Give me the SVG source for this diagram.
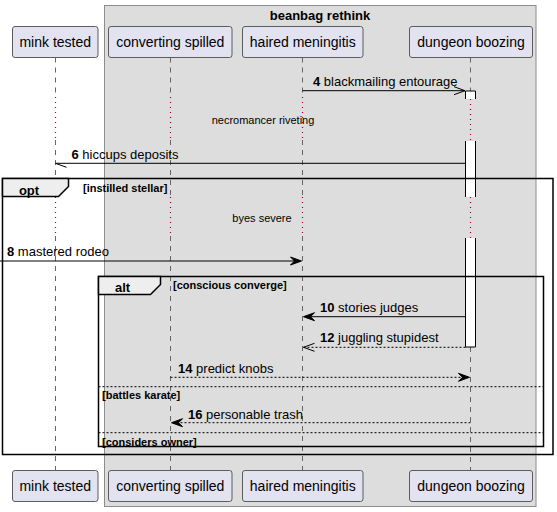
<svg xmlns="http://www.w3.org/2000/svg" width="557" height="512" viewBox="0 0 557 512">
<style>
.pbox{fill:#E2E2F0;stroke:#5C5C5C;stroke-width:1}
.ptxt{font-family:"Liberation Sans",Arial,sans-serif;font-size:14px;fill:#000;text-anchor:middle}
.life{stroke:#666;stroke-width:1;stroke-dasharray:5,5;fill:none}
.delay{stroke:#A80036;stroke-width:1.2;stroke-dasharray:1,4;fill:none}
.msg{stroke:#000;stroke-width:1;fill:none}
.dash{stroke-dasharray:2,2}
.mtxt{font-family:"Liberation Sans",Arial,sans-serif;font-size:13px;fill:#000}
.num{font-weight:bold}
.dtxt{font-family:"Liberation Sans",Arial,sans-serif;font-size:11px;fill:#000;text-anchor:middle}
.frame{fill:none;stroke:#000;stroke-width:1.5}
.tab{fill:#EEEEEE;stroke:#000;stroke-width:1.5}
.ttxt{font-family:"Liberation Sans",Arial,sans-serif;font-size:13px;font-weight:bold;fill:#000;text-anchor:middle}
.ctxt{font-family:"Liberation Sans",Arial,sans-serif;font-size:11px;font-weight:bold;fill:#000}
.sep{stroke:#000;stroke-width:1;stroke-dasharray:2,2;fill:none}
.act{fill:#FFFFFF;stroke:none}
.actl{stroke:#000;stroke-width:1;fill:none}
.head{fill:#000;stroke:#000;stroke-width:1}
</style>
<g id="box-beanbag-rethink">
<rect x="104.5" y="5.5" width="431.5" height="501" fill="#DDDDDD" stroke="#8C8C8C" stroke-width="1"/>
<text x="320" y="19.5" class="ttxt">beanbag rethink</text>
</g>
<g id="lifelines">
<path class="life" d="M55.5,57.5V97M55.5,140V197M55.5,236V470"/>
<path class="delay" d="M55.5,97V140M55.5,197V236"/>
<path class="life" d="M170.5,57.5V97M170.5,140V197M170.5,236V470"/>
<path class="delay" d="M170.5,97V140M170.5,197V236"/>
<path class="life" d="M302.5,57.5V97M302.5,140V197M302.5,236V470"/>
<path class="delay" d="M302.5,97V140M302.5,197V236"/>
<path class="life" d="M470.5,57.5V91M470.5,347V470"/>
<path class="delay" d="M470.5,99V141M470.5,197V238"/>
</g>
<g id="activations">
<rect class="act" x="465.5" y="91" width="10" height="8"/>
<path class="actl" d="M465.5,99V91H475.5V99"/>
<rect class="act" x="465.5" y="141" width="10" height="56"/>
<path class="actl" d="M465.5,141V197M475.5,141V197"/>
<rect class="act" x="465.5" y="238" width="10" height="109"/>
<path class="actl" d="M465.5,238V347H475.5V238"/>
</g>
<g id="group-opt">
<rect class="frame" x="2.5" y="178.5" width="550.5" height="276"/>
<path class="tab" d="M2.5,178.5H68.5V186.5L58.5,196.5H2.5Z"/>
<text x="29" y="195" class="ttxt">opt</text>
<text x="83" y="192" class="ctxt">[instilled stellar]</text>
</g>
<g id="group-alt">
<rect class="frame" x="98.5" y="276.5" width="445" height="170"/>
<path class="tab" d="M98.5,276.5H160.5V284.5L150.5,294.5H98.5Z"/>
<text x="122.5" y="291.5" class="ttxt">alt</text>
<text x="173" y="289" class="ctxt">[conscious converge]</text>
<line class="sep" x1="98.5" y1="386.7" x2="543.5" y2="386.7"/>
<text x="102" y="399" class="ctxt">[battles karate]</text>
<line class="sep" x1="98.5" y1="432.7" x2="543.5" y2="432.7"/>
<text x="102" y="445.5" class="ctxt">[considers owner]</text>
</g>
<g id="connectors">
<g id="m4">
<line class="msg" x1="302.5" y1="90.7" x2="465" y2="90.7"/>
<path class="msg" d="M454,86.7L465,90.7L454,94.7"/>
<text x="313" y="86" class="mtxt"><tspan class="num">4</tspan> blackmailing entourage</text>
</g>
<text x="263" y="124" class="dtxt">necromancer riveting</text>
<g id="m6">
<line class="msg" x1="465.5" y1="163.3" x2="55.5" y2="163.3"/>
<path class="msg" d="M55.5,163.3L66.5,167.3"/>
<text x="71.5" y="159" class="mtxt"><tspan class="num">6</tspan> hiccups deposits</text>
</g>
<text x="262" y="222" class="dtxt">byes severe</text>
<g id="m8">
<line class="msg" x1="0" y1="261" x2="300" y2="261"/>
<path class="head" d="M290.5,257L301.5,261L290.5,265L294.5,261Z"/>
<text x="7" y="256" class="mtxt"><tspan class="num">8</tspan> mastered rodeo</text>
</g>
<g id="m10">
<line class="msg" x1="465.5" y1="316.7" x2="305" y2="316.7"/>
<path class="head" d="M314.5,312.7L303.5,316.7L314.5,320.7L310.5,316.7Z"/>
<text x="320" y="312" class="mtxt"><tspan class="num">10</tspan> stories judges</text>
</g>
<g id="m12">
<line class="msg dash" x1="465.5" y1="347.3" x2="303.5" y2="347.3"/>
<path class="msg" d="M314.5,343.3L303.5,347.3L314.5,351.3"/>
<text x="320" y="342" class="mtxt"><tspan class="num">12</tspan> juggling stupidest</text>
</g>
<g id="m14">
<line class="msg dash" x1="170.5" y1="377.3" x2="468" y2="377.3"/>
<path class="head" d="M458.5,373.3L469.5,377.3L458.5,381.3L462.5,377.3Z"/>
<text x="178" y="372.5" class="mtxt"><tspan class="num">14</tspan> predict knobs</text>
</g>
<g id="m16">
<line class="msg dash" x1="470.5" y1="422.7" x2="173" y2="422.7"/>
<path class="head" d="M182.5,418.7L171.5,422.7L182.5,426.7L178.5,422.7Z"/>
<text x="188" y="419" class="mtxt"><tspan class="num">16</tspan> personable trash</text>
</g>
</g>
<g id="mink-tested">
<rect class="pbox" x="12.5" y="26.5" width="85.5" height="31" rx="2.5"/>
<text x="55.25" y="47" class="ptxt">mink tested</text>
<rect class="pbox" x="12.5" y="470.5" width="85.5" height="31" rx="2.5"/>
<text x="55.25" y="491" class="ptxt">mink tested</text>
</g>
<g id="converting-spilled">
<rect class="pbox" x="108.5" y="26.5" width="123.5" height="31" rx="2.5"/>
<text x="170.25" y="47" class="ptxt">converting spilled</text>
<rect class="pbox" x="108.5" y="470.5" width="123.5" height="31" rx="2.5"/>
<text x="170.25" y="491" class="ptxt">converting spilled</text>
</g>
<g id="haired-meningitis">
<rect class="pbox" x="242.5" y="26.5" width="120.5" height="31" rx="2.5"/>
<text x="302.75" y="47" class="ptxt">haired meningitis</text>
<rect class="pbox" x="242.5" y="470.5" width="120.5" height="31" rx="2.5"/>
<text x="302.75" y="491" class="ptxt">haired meningitis</text>
</g>
<g id="dungeon-boozing">
<rect class="pbox" x="409.5" y="26.5" width="123" height="31" rx="2.5"/>
<text x="471" y="47" class="ptxt">dungeon boozing</text>
<rect class="pbox" x="409.5" y="470.5" width="123" height="31" rx="2.5"/>
<text x="471" y="491" class="ptxt">dungeon boozing</text>
</g>
</svg>
